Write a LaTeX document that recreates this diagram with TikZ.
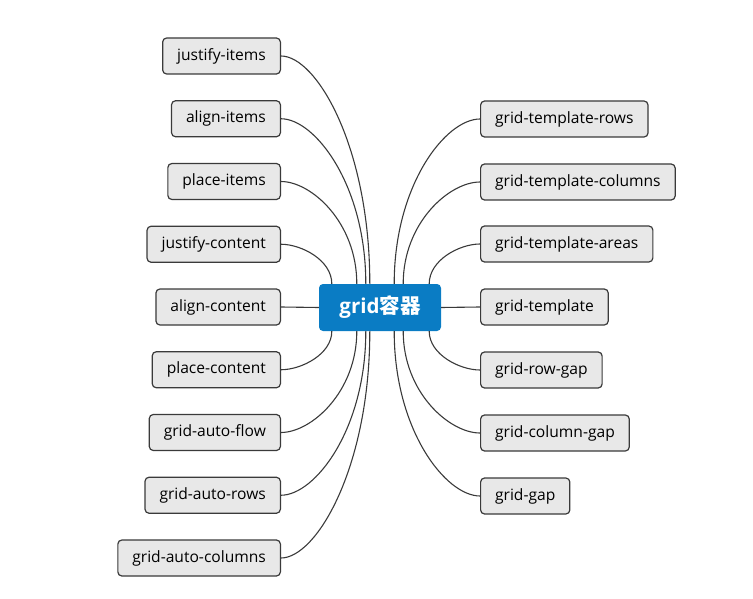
\documentclass[tikz,border=0pt]{standalone}
\usepackage{fontspec}
\usetikzlibrary{calc}
\setmainfont{Open Sans}
\newfontfamily\cjk{Noto Sans CJK SC}
\definecolor{boxgray}{HTML}{E8E8E8}
\definecolor{linegray}{HTML}{3A3A3A}
\definecolor{mainblue}{HTML}{0A7CC4}
\tikzset{
  prop/.style={draw=linegray, fill=boxgray, rounded corners=4pt, line width=1.2pt,
    minimum height=36pt, inner xsep=14.5pt, font=\fontsize{15.6}{18}\selectfont},
  lprop/.style={prop, anchor=east},
  rprop/.style={prop, anchor=west},
  link/.style={draw=linegray, line width=1.1pt},
  branch/.style={to path={let \p1=(\tikztostart), \p2=(\tikztotarget) in
    .. controls ({0.6*\x1+0.4*\x2},\y1) and (\x2,{0.6*\y1+0.4*\y2}) .. (\tikztotarget)}},
}
\begin{document}
\begin{tikzpicture}[x=1pt,y=1pt]
  \useasboundingbox (0,0) rectangle (753,-599);
  % centre
  \node[fill=mainblue, rounded corners=4pt, minimum width=122pt, minimum height=47pt,
    text=white, font=\bfseries\fontsize{20.5}{24}\selectfont] (c) at (380,-307.5) {grid{\cjk 容器}};
  % left side
  \node[lprop] (ji) at (281,-56) {justify-items};
  \node[lprop] (ai) at (281,-118.75) {align-items};
  \node[lprop] (pi) at (281,-181.5) {place-items};
  \node[lprop] (jc) at (281,-244.25) {justify-content};
  \node[lprop] (ac) at (281,-307) {align-content};
  \node[lprop] (pc) at (281,-369.75) {place-content};
  \node[lprop] (gaf) at (281,-432.5) {grid-auto-flow};
  \node[lprop] (gar) at (281,-495.25) {grid-auto-rows};
  \node[lprop] (gac) at (281,-558) {grid-auto-columns};
  % right side
  \node[rprop] (gtr) at (480,-119) {grid-template-rows};
  \node[rprop] (gtc) at (480,-182) {grid-template-columns};
  \node[rprop] (gta) at (480,-244) {grid-template-areas};
  \node[rprop] (gt) at (480,-307) {grid-template};
  \node[rprop] (grg) at (480,-370) {grid-row-gap};
  \node[rprop] (gcg) at (480,-433) {grid-column-gap};
  \node[rprop] (gg) at (480,-496) {grid-gap};
  % links
  \draw[link] (ji.east) to[branch] ([xshift=51pt]c.north west);
  \draw[link] (ai.east) to[branch] ([xshift=47pt]c.north west);
  \draw[link] (pi.east) to[branch] ([xshift=38pt]c.north west);
  \draw[link] (jc.east) to[branch] ([xshift=13pt]c.north west);
  \draw[link] (ac.east) -- (c.west);
  \draw[link] (pc.east) to[branch] ([xshift=13pt]c.south west);
  \draw[link] (gaf.east) to[branch] ([xshift=38pt]c.south west);
  \draw[link] (gar.east) to[branch] ([xshift=47pt]c.south west);
  \draw[link] (gac.east) to[branch] ([xshift=51pt]c.south west);
  \draw[link] (gtr.west) to[branch] ([xshift=-47pt]c.north east);
  \draw[link] (gtc.west) to[branch] ([xshift=-38pt]c.north east);
  \draw[link] (gta.west) to[branch] ([xshift=-12pt]c.north east);
  \draw[link] (gt.west) -- (c.east);
  \draw[link] (grg.west) to[branch] ([xshift=-12pt]c.south east);
  \draw[link] (gcg.west) to[branch] ([xshift=-38pt]c.south east);
  \draw[link] (gg.west) to[branch] ([xshift=-47pt]c.south east);
\end{tikzpicture}
\end{document}
